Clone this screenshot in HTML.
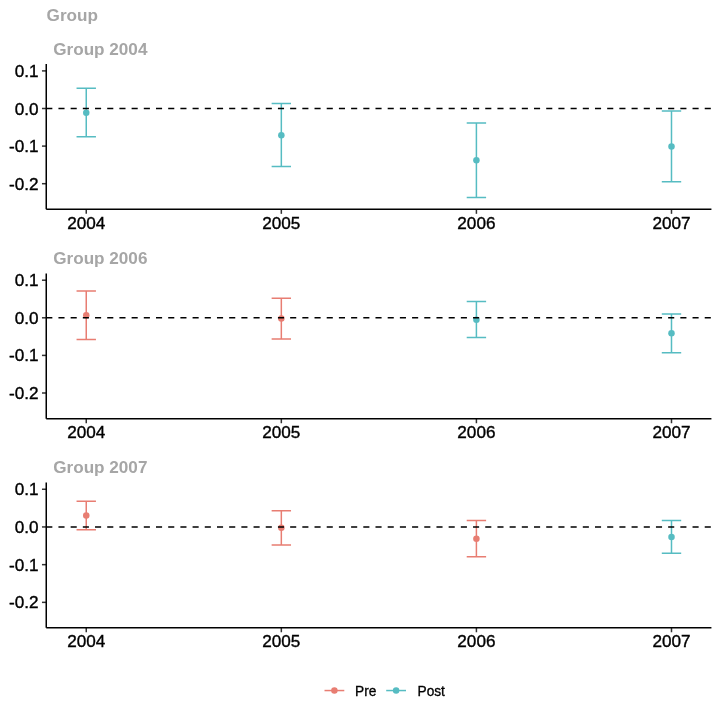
<!DOCTYPE html>
<html lang="en"><head><meta charset="utf-8"><title>Group</title>
<style>
html,body{margin:0;padding:0;background:#fff;}
body{width:720px;height:720px;overflow:hidden;}
svg{display:block;}
text{font-family:"Liberation Sans",sans-serif;}
.ax{font-size:17.14px;fill:#000;stroke:#000;stroke-width:0.38px;}
.ttl{font-size:17.14px;font-weight:bold;fill:#a6a6a6;}
.strip{font-size:17.14px;font-weight:bold;fill:#a6a6a6;}
.lg{font-size:13.71px;fill:#000;stroke:#000;stroke-width:0.3px;}
</style></head><body>
<svg width="720" height="720" viewBox="0 0 720 720">
<rect width="720" height="720" fill="#fff"/>
<text class="ttl" x="46.6" y="20.65">Group</text>
<g>
<text class="strip" x="53.2" y="55.0">Group 2004</text>
<path d="M76.55 88.25H95.95M86.25 88.25V136.75M76.55 136.75H95.95" fill="none" stroke="#56BCC2" stroke-width="1.5"/>
<circle cx="86.25" cy="112.65" r="3.25" fill="#56BCC2"/>
<path d="M271.63 103.55H291.03M281.33 103.55V166.4M271.63 166.4H291.03" fill="none" stroke="#56BCC2" stroke-width="1.5"/>
<circle cx="281.33" cy="135.15" r="3.25" fill="#56BCC2"/>
<path d="M466.71 122.9H486.11M476.41 122.9V197.4M466.71 197.4H486.11" fill="none" stroke="#56BCC2" stroke-width="1.5"/>
<circle cx="476.41" cy="160.15" r="3.25" fill="#56BCC2"/>
<path d="M661.79 111.05H681.19M671.49 111.05V181.75M661.79 181.75H681.19" fill="none" stroke="#56BCC2" stroke-width="1.5"/>
<circle cx="671.49" cy="146.4" r="3.25" fill="#56BCC2"/>
<path d="M46.25 108.5H711.43" stroke="#000" stroke-width="1.5" stroke-dasharray="6.097 6.097" fill="none"/>
<path d="M41.96 70.90H46.25" stroke="#333" stroke-width="1.5"/>
<text class="ax" x="38.6" y="76.95" text-anchor="end">0.1</text>
<path d="M41.96 108.50H46.25" stroke="#333" stroke-width="1.5"/>
<text class="ax" x="38.6" y="114.55" text-anchor="end">0.0</text>
<path d="M41.96 146.10H46.25" stroke="#333" stroke-width="1.5"/>
<text class="ax" x="38.6" y="152.15" text-anchor="end">-0.1</text>
<path d="M41.96 183.70H46.25" stroke="#333" stroke-width="1.5"/>
<text class="ax" x="38.6" y="189.75" text-anchor="end">-0.2</text>
<path d="M86.25 209.25V213.84" stroke="#333" stroke-width="1.5"/>
<text class="ax" x="86.25" y="228.75" text-anchor="middle">2004</text>
<path d="M281.33 209.25V213.84" stroke="#333" stroke-width="1.5"/>
<text class="ax" x="281.33" y="228.75" text-anchor="middle">2005</text>
<path d="M476.41 209.25V213.84" stroke="#333" stroke-width="1.5"/>
<text class="ax" x="476.41" y="228.75" text-anchor="middle">2006</text>
<path d="M671.49 209.25V213.84" stroke="#333" stroke-width="1.5"/>
<text class="ax" x="671.49" y="228.75" text-anchor="middle">2007</text>
<path d="M46.25 64.1V209.25M46.25 209.25H711.43" fill="none" stroke="#000" stroke-width="1.5"/>
</g>
<g>
<text class="strip" x="53.2" y="264.3">Group 2006</text>
<path d="M76.55 291.1H95.95M86.25 291.1V339.6M76.55 339.6H95.95" fill="none" stroke="#E87D72" stroke-width="1.5"/>
<circle cx="86.25" cy="315.2" r="3.25" fill="#E87D72"/>
<path d="M271.63 298.35H291.03M281.33 298.35V339.1M271.63 339.1H291.03" fill="none" stroke="#E87D72" stroke-width="1.5"/>
<circle cx="281.33" cy="318.55" r="3.25" fill="#E87D72"/>
<path d="M466.71 301.6H486.11M476.41 301.6V337.4M466.71 337.4H486.11" fill="none" stroke="#56BCC2" stroke-width="1.5"/>
<circle cx="476.41" cy="319.7" r="3.25" fill="#56BCC2"/>
<path d="M661.79 313.95H681.19M671.49 313.95V352.7M661.79 352.7H681.19" fill="none" stroke="#56BCC2" stroke-width="1.5"/>
<circle cx="671.49" cy="333.3" r="3.25" fill="#56BCC2"/>
<path d="M46.25 317.8H711.43" stroke="#000" stroke-width="1.5" stroke-dasharray="6.097 6.097" fill="none"/>
<path d="M41.96 280.20H46.25" stroke="#333" stroke-width="1.5"/>
<text class="ax" x="38.6" y="286.25" text-anchor="end">0.1</text>
<path d="M41.96 317.80H46.25" stroke="#333" stroke-width="1.5"/>
<text class="ax" x="38.6" y="323.85" text-anchor="end">0.0</text>
<path d="M41.96 355.40H46.25" stroke="#333" stroke-width="1.5"/>
<text class="ax" x="38.6" y="361.45" text-anchor="end">-0.1</text>
<path d="M41.96 393.00H46.25" stroke="#333" stroke-width="1.5"/>
<text class="ax" x="38.6" y="399.05" text-anchor="end">-0.2</text>
<path d="M86.25 418.65V423.24" stroke="#333" stroke-width="1.5"/>
<text class="ax" x="86.25" y="438.25" text-anchor="middle">2004</text>
<path d="M281.33 418.65V423.24" stroke="#333" stroke-width="1.5"/>
<text class="ax" x="281.33" y="438.25" text-anchor="middle">2005</text>
<path d="M476.41 418.65V423.24" stroke="#333" stroke-width="1.5"/>
<text class="ax" x="476.41" y="438.25" text-anchor="middle">2006</text>
<path d="M671.49 418.65V423.24" stroke="#333" stroke-width="1.5"/>
<text class="ax" x="671.49" y="438.25" text-anchor="middle">2007</text>
<path d="M46.25 273.4V418.65M46.25 418.65H711.43" fill="none" stroke="#000" stroke-width="1.5"/>
</g>
<g>
<text class="strip" x="53.2" y="473.2">Group 2007</text>
<path d="M76.55 501.15H95.95M86.25 501.15V529.8M76.55 529.8H95.95" fill="none" stroke="#E87D72" stroke-width="1.5"/>
<circle cx="86.25" cy="515.5" r="3.25" fill="#E87D72"/>
<path d="M271.63 510.7H291.03M281.33 510.7V544.95M271.63 544.95H291.03" fill="none" stroke="#E87D72" stroke-width="1.5"/>
<circle cx="281.33" cy="527.85" r="3.25" fill="#E87D72"/>
<path d="M466.71 520.6H486.11M476.41 520.6V556.85M466.71 556.85H486.11" fill="none" stroke="#E87D72" stroke-width="1.5"/>
<circle cx="476.41" cy="538.7" r="3.25" fill="#E87D72"/>
<path d="M661.79 520.6H681.19M671.49 520.6V553.15M661.79 553.15H681.19" fill="none" stroke="#56BCC2" stroke-width="1.5"/>
<circle cx="671.49" cy="536.9" r="3.25" fill="#56BCC2"/>
<path d="M46.25 526.95H711.43" stroke="#000" stroke-width="1.5" stroke-dasharray="6.097 6.097" fill="none"/>
<path d="M41.96 489.25H46.25" stroke="#333" stroke-width="1.5"/>
<text class="ax" x="38.6" y="495.30" text-anchor="end">0.1</text>
<path d="M41.96 526.95H46.25" stroke="#333" stroke-width="1.5"/>
<text class="ax" x="38.6" y="533.00" text-anchor="end">0.0</text>
<path d="M41.96 564.65H46.25" stroke="#333" stroke-width="1.5"/>
<text class="ax" x="38.6" y="570.70" text-anchor="end">-0.1</text>
<path d="M41.96 602.35H46.25" stroke="#333" stroke-width="1.5"/>
<text class="ax" x="38.6" y="608.40" text-anchor="end">-0.2</text>
<path d="M86.25 627.67V632.2599999999999" stroke="#333" stroke-width="1.5"/>
<text class="ax" x="86.25" y="647.02" text-anchor="middle">2004</text>
<path d="M281.33 627.67V632.2599999999999" stroke="#333" stroke-width="1.5"/>
<text class="ax" x="281.33" y="647.02" text-anchor="middle">2005</text>
<path d="M476.41 627.67V632.2599999999999" stroke="#333" stroke-width="1.5"/>
<text class="ax" x="476.41" y="647.02" text-anchor="middle">2006</text>
<path d="M671.49 627.67V632.2599999999999" stroke="#333" stroke-width="1.5"/>
<text class="ax" x="671.49" y="647.02" text-anchor="middle">2007</text>
<path d="M46.25 482.55V627.67M46.25 627.67H711.43" fill="none" stroke="#000" stroke-width="1.5"/>
</g>
<g>
<path d="M324.5 690.55H344.3" stroke="#E87D72" stroke-width="1.5"/><circle cx="334.4" cy="690.55" r="3.25" fill="#E87D72"/>
<text class="lg" x="355.0" y="695.9">Pre</text>
<path d="M386.2 690.55H406" stroke="#56BCC2" stroke-width="1.5"/><circle cx="396.1" cy="690.55" r="3.25" fill="#56BCC2"/>
<text class="lg" x="417.5" y="695.9">Post</text>
</g>
</svg>
</body></html>
